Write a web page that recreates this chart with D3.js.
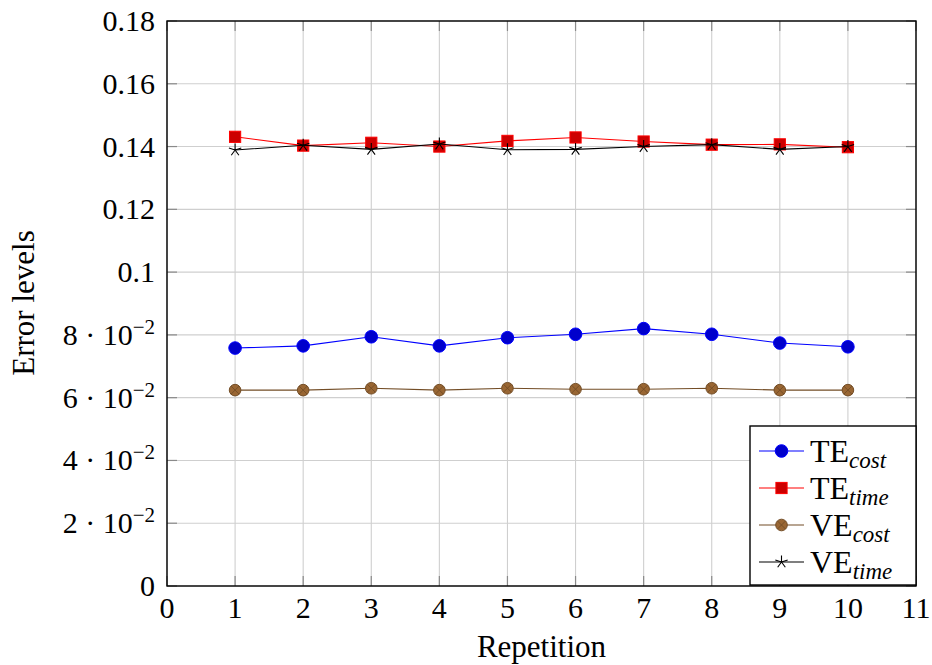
<!DOCTYPE html>
<html><head><meta charset="utf-8">
<script src="https://cdn.jsdelivr.net/npm/d3@7"></script>
<style>body{margin:0;background:#fff}svg{display:block}text{font-family:"Liberation Serif","Times New Roman",serif;fill:#000;white-space:pre}</style>
</head><body><svg id="c" width="932" height="665"></svg>
<script>
const repetitions = [1,2,3,4,5,6,7,8,9,10];
const teCost = [0.0758,0.0765,0.0794,0.0765,0.0791,0.0802,0.0820,0.0802,0.0774,0.0762];
const teTime = [0.1431,0.1403,0.1412,0.1400,0.1418,0.1429,0.1416,0.1406,0.1407,0.1398];
const veCost = [0.0624,0.0624,0.0630,0.0624,0.0630,0.0627,0.0627,0.0630,0.0624,0.0624];
const veTime = [0.1389,0.1404,0.1391,0.1408,0.1390,0.1391,0.1400,0.1406,0.1391,0.1400];
const xTicks = [0,1,2,3,4,5,6,7,8,9,10,11];
const yTicks = [0,0.02,0.04,0.06,0.08,0.1,0.12,0.14,0.16,0.18];
const yTickLabels = [["0"],["2 · 10","−2"],["4 · 10","−2"],["6 · 10","−2"],["8 · 10","−2"],["0.1"],["0.12"],["0.14"],["0.16"],["0.18"]];
const seriesNames = [["TE","cost"],["TE","time"],["VE","cost"],["VE","time"]];

const svg = d3.select("#c");
const L=167,R=916,T=21,B=586;
const x = d3.scaleLinear().domain([0,11]).range([L,R]);
const y = d3.scaleLinear().domain([0,0.18]).range([B,T]);

// grid
const g = svg.append("g");
g.selectAll(".gx").data(xTicks).join("line").attr("x1",d=>x(d)).attr("x2",d=>x(d)).attr("y1",T).attr("y2",B).attr("stroke","#cfcfcf").attr("stroke-width",1.1);
g.selectAll(".gy").data(yTicks).join("line").attr("y1",d=>y(d)).attr("y2",d=>y(d)).attr("x1",L).attr("x2",R).attr("stroke","#cfcfcf").attr("stroke-width",1.1);
// ticks (inside, all four sides)
const tl=10, tc="#8a8a8a";
xTicks.forEach(d=>{
  g.append("line").attr("x1",x(d)).attr("x2",x(d)).attr("y1",B).attr("y2",B-tl).attr("stroke",tc).attr("stroke-width",1.2);
  g.append("line").attr("x1",x(d)).attr("x2",x(d)).attr("y1",T).attr("y2",T+tl).attr("stroke",tc).attr("stroke-width",1.2);
});
yTicks.forEach(d=>{
  g.append("line").attr("y1",y(d)).attr("y2",y(d)).attr("x1",L).attr("x2",L+tl).attr("stroke",tc).attr("stroke-width",1.2);
  g.append("line").attr("y1",y(d)).attr("y2",y(d)).attr("x1",R).attr("x2",R-tl).attr("stroke",tc).attr("stroke-width",1.2);
});

// series
const styles = [
  {line:"#0000ff", fill:"#0000cc", mark:"circle"},
  {line:"#ff0000", fill:"#cc0000", mark:"square"},
  {line:"#734d26", fill:"#996633", mark:"otimes"},
  {line:"#000000", fill:"none", mark:"star"}
];
const allSeries=[teCost,teTime,veCost,veTime];
function drawMark(sel, cx, cy, st){
  if(st.mark==="circle"){
    sel.append("circle").attr("cx",cx).attr("cy",cy).attr("r",6.3).attr("fill",st.fill).attr("stroke",st.line).attr("stroke-width",1);
  } else if(st.mark==="square"){
    sel.append("rect").attr("x",cx-5.6).attr("y",cy-5.6).attr("width",11.2).attr("height",11.2).attr("fill",st.fill).attr("stroke",st.line).attr("stroke-width",1);
  } else if(st.mark==="otimes"){
    sel.append("circle").attr("cx",cx).attr("cy",cy).attr("r",5.8).attr("fill",st.fill).attr("stroke",st.line).attr("stroke-width",1);
    const r=5.8*Math.SQRT1_2;
    sel.append("path").attr("d",`M${cx-r},${cy-r}L${cx+r},${cy+r}M${cx-r},${cy+r}L${cx+r},${cy-r}`).attr("stroke",st.line).attr("stroke-width",0.9);
  } else {
    let p="";
    for(let k=0;k<5;k++){const a=-Math.PI/2+k*2*Math.PI/5;p+=`M${cx},${cy}L${cx+6.5*Math.cos(a)},${cy+6.5*Math.sin(a)}`;}
    sel.append("path").attr("d",p).attr("stroke",st.line).attr("stroke-width",1.1).attr("fill","none");
  }
}
const line = d3.line().x((d,i)=>x(repetitions[i])).y(d=>y(d));
allSeries.forEach((s,si)=>{
  const st=styles[si];
  const gs=svg.append("g");
  gs.append("path").attr("d",line(s)).attr("fill","none").attr("stroke",st.line).attr("stroke-width",1.1);
  s.forEach((v,i)=>drawMark(gs,x(repetitions[i]),y(v),st));
});

// axis box
svg.append("rect").attr("x",L).attr("y",T).attr("width",R-L).attr("height",B-T).attr("fill","none").attr("stroke","#000").attr("stroke-width",1.4);

// tick labels
const fs=30;
svg.selectAll(".xl").data(xTicks).join("text").attr("x",d=>x(d)).attr("y",618).attr("text-anchor","middle").attr("font-size",fs).text(d=>d);
yTicks.forEach((d,i)=>{
  const lab=yTickLabels[i];
  const t=svg.append("text").attr("x",155).attr("y",y(d)+10).attr("text-anchor","end").attr("font-size",fs);
  t.append("tspan").text(lab[0]);
  if(lab[1]) t.append("tspan").attr("font-size",21).attr("dy",-11).text(lab[1]);
});

// axis titles
svg.append("text").attr("x",(L+R)/2).attr("y",657).attr("text-anchor","middle").attr("font-size",31).text("Repetition");
svg.append("text").attr("transform","translate(34,303) rotate(-90)").attr("text-anchor","middle").attr("font-size",31).text("Error levels");

// legend
const lg=svg.append("g");
lg.append("rect").attr("x",750).attr("y",426).attr("width",166).attr("height",159).attr("fill","#fff").attr("stroke","#000").attr("stroke-width",1.4);
const rowY=[451,488,525,562];
seriesNames.forEach((n,i)=>{
  const st=styles[i], yy=rowY[i];
  lg.append("line").attr("x1",759).attr("x2",804).attr("y1",yy).attr("y2",yy).attr("stroke",st.line).attr("stroke-width",1.1);
  drawMark(lg,781.5,yy,st);
  const t=lg.append("text").attr("x",810).attr("y",yy+11).attr("font-size",32);
  t.append("tspan").text(n[0]);
  t.append("tspan").attr("font-size",23).attr("font-style","italic").attr("dy",6).text(n[1]);
});
</script></body></html>
